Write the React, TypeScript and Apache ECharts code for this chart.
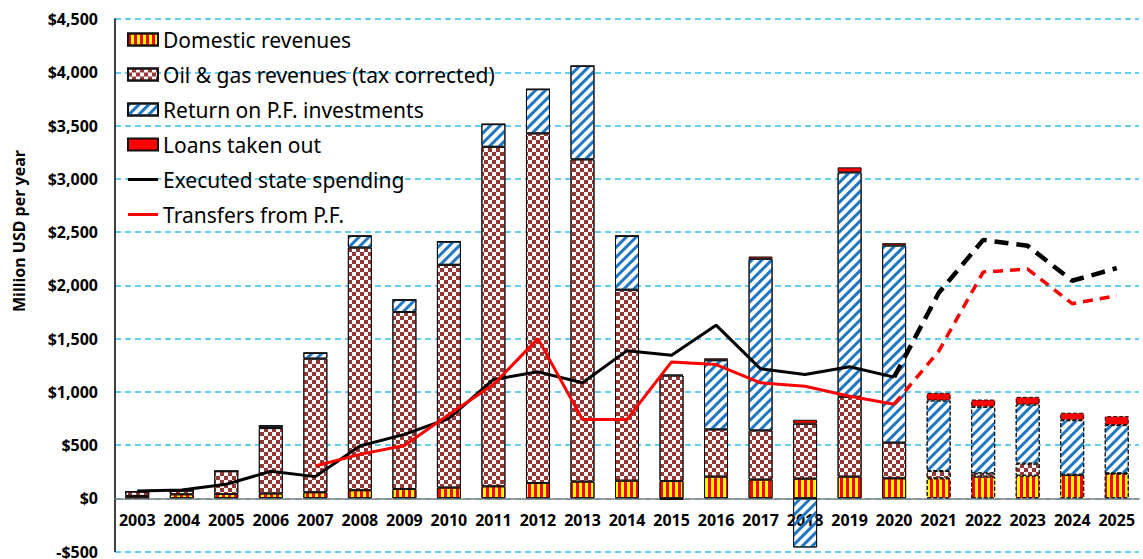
import React, { useEffect, useRef } from "react";
import * as echarts from "echarts";

const years = ["2003","2004","2005","2006","2007","2008","2009","2010","2011","2012","2013","2014","2015","2016","2017","2018","2019","2020","2021","2022","2023","2024","2025"];
const domestic = [22, 37, 40, 45, 56, 75, 87, 100, 112, 143, 156, 165, 162, 203, 175, 184, 203, 187, 187, 203, 212, 218, 231];
const oilGas = [41, 35, 214, 614, 1255, 2279, 1662, 2092, 3188, 3283, 3026, 1793, 990, 443, 462, 516, 750, 335, 69, 31, 113, 3, 3];
const returnPF = [0, 0, 0, 22, 54, 110, 115, 218, 213, 415, 877, 506, -15, 650, 1611, -462, 2107, 1851, 662, 625, 555, 512, 453];
const loans = [0, 0, 0, 0, 0, 0, 0, 0, 0, 0, 0, 0, 10, 18, 22, 37, 47, 22, 72, 68, 72, 70, 84];
// Executed state spending: actual 2003-2020, forecast 2020-2025
const spendingActual = [68, 78, 131, 253, 203, 490, 600, 749, 1115, 1187, 1084, 1386, 1343, 1625, 1215, 1162, 1234, 1137];
const spendingForecast = [1137, 1927, 2426, 2370, 2042, 2161];
// Transfers from P.F.: actual 2007-2020, forecast 2020-2025
const transfersActual = [303, 412, 496, 787, 1068, 1499, 740, 740, 1280, 1255, 1084, 1052, 958, 883];
const transfersForecast = [883, 1380, 2124, 2152, 1827, 1902];
const yTicks = { min: -500, max: 4500, interval: 500 };

const FONT = "Noto Sans";
const firstForecastIdx = 18;
const LINE_ICON = "path://M0 0H30V3H0Z";
const GRID_TOP = 19;
const GRID_BOTTOM = 7.5;
const CHART_H = 559;

export default function App() {
  const ref = useRef<HTMLDivElement>(null);
  useEffect(() => {
    if (!ref.current) return;
    const chart = echarts.init(ref.current, null, { renderer: "svg" });
    const n = years.length;
    const pad = (arr: number[], start: number) => {
      const out: (number | null)[] = new Array(n).fill(null);
      arr.forEach((v, i) => (out[start + i] = v));
      return out;
    };
    const barData = (arr: number[]) =>
      arr.map((v, i) => {
        const st: any = {};
        if (i >= firstForecastIdx) st.borderType = "dashed";
        if (v < 0) st.color = "rgba(255,255,255,0)";
        return { value: v, itemStyle: st };
      });
    const border = { borderColor: "#111", borderWidth: 1 };
    const barCommon = { type: "bar", stack: "rev", barWidth: 24, z: 2 };
    const gridH = CHART_H - GRID_TOP - GRID_BOTTOM;
    const zeroFromBottom = (-yTicks.min / (yTicks.max - yTicks.min)) * gridH;

    chart.setOption({
      animation: false,
      backgroundColor: "#fff",
      textStyle: { fontFamily: FONT },
      grid: { left: 115, right: 4, top: GRID_TOP, bottom: GRID_BOTTOM, containLabel: false, outerBoundsMode: "none" },
      legend: {
        orient: "vertical",
        left: 122,
        top: 24,
        itemWidth: 30,
        itemHeight: 12,
        itemGap: 14,
        symbolKeepAspect: true,
        textStyle: { fontFamily: FONT, fontSize: 21, color: "#000" },
        data: [
          { name: "Domestic revenues", icon: "rect" },
          { name: "Oil & gas revenues (tax corrected)", icon: "rect" },
          { name: "Return on P.F. investments", icon: "rect" },
          { name: "Loans taken out", icon: "rect" },
          { name: "Executed state spending", icon: LINE_ICON },
          { name: "Transfers from P.F.", icon: LINE_ICON },
        ],
      },
      graphic: [
        {
          type: "text",
          x: 19,
          y: 231,
          rotation: Math.PI / 2,
          style: {
            text: "Million USD per year",
            fontFamily: FONT,
            fontSize: 16,
            fontWeight: "bold",
            fill: "#000",
            textAlign: "center",
            textVerticalAlign: "middle",
          },
        },
      ],
      xAxis: {
        type: "category",
        data: years,
        position: "bottom",
        offset: -zeroFromBottom,
        axisLine: { onZero: false, lineStyle: { color: "#808080", width: 1.5 } },
        axisTick: { show: false },
        axisLabel: { interval: 0, fontFamily: FONT, fontSize: 16, fontWeight: "bold", color: "#000", margin: 14 },
      },
      yAxis: {
        type: "value",
        min: yTicks.min,
        max: yTicks.max,
        interval: yTicks.interval,
        axisLine: { show: true, lineStyle: { color: "#000", width: 1.5 } },
        axisTick: { show: false },
        axisLabel: {
          fontFamily: FONT,
          fontSize: 16,
          lineHeight: 13,
          fontWeight: "bold",
          color: "#000",
          margin: 17,
          formatter: (v: number) =>
            (v < 0 ? "-$" : "$") + Math.abs(v).toLocaleString("en-US"),
        },
        splitLine: { lineStyle: { color: "#33bfee", width: 1.5, type: [6, 4] } },
      },
      series: [
        {
          ...barCommon,
          name: "Domestic revenues",
          data: barData(domestic),
          itemStyle: {
            color: "#ffff00",
            ...border,
            decal: { symbol: "rect", symbolSize: 1, color: "#ff0000", dashArrayX: [2.5, 2.5], dashArrayY: [1, 0], rotation: 0 },
          },
        },
        {
          ...barCommon,
          name: "Oil & gas revenues (tax corrected)",
          data: barData(oilGas),
          itemStyle: {
            color: "#ffffff",
            ...border,
            decal: { symbol: "rect", symbolSize: 1, color: "#953735", dashArrayX: [[4, 4], [0, 4, 4, 0]], dashArrayY: [4, 0], rotation: 0 },
          },
        },
        {
          ...barCommon,
          name: "Return on P.F. investments",
          data: barData(returnPF),
          itemStyle: {
            color: "#ffffff",
            ...border,
            decal: { symbol: "rect", symbolSize: 1, color: "#1f77c4", dashArrayX: [1, 0], dashArrayY: [2.5, 3.5], rotation: -Math.PI / 4 },
          },
        },
        {
          ...barCommon,
          name: "Loans taken out",
          data: barData(loans),
          itemStyle: { color: "#ff0000", ...border },
        },
        {
          type: "line",
          name: "Executed state spending",
          data: pad(spendingActual, 0),
          symbol: "none",
          z: 5,
          lineStyle: { color: "#000", width: 3 },
          itemStyle: { color: "#000", borderWidth: 0 },
        },
        {
          type: "line",
          name: "Executed state spending (forecast)",
          data: pad(spendingForecast, 17),
          symbol: "none",
          z: 5,
          lineStyle: { color: "#000", width: 4.5, type: [14, 8] },
          itemStyle: { color: "#000" },
        },
        {
          type: "line",
          name: "Transfers from P.F.",
          data: pad(transfersActual, 4),
          symbol: "none",
          z: 5,
          lineStyle: { color: "#ff0000", width: 3 },
          itemStyle: { color: "#ff0000", borderWidth: 0 },
        },
        {
          type: "line",
          name: "Transfers from P.F. (forecast)",
          data: pad(transfersForecast, 17),
          symbol: "none",
          z: 5,
          lineStyle: { color: "#ff0000", width: 3.5, type: [10, 7] },
          itemStyle: { color: "#ff0000" },
        },
      ],
    });
    return () => chart.dispose();
  }, []);
  return (
    <div
      ref={ref}
      style={{ position: "fixed", left: 0, top: 0, width: 1143, height: 559 }}
    />
  );
}
